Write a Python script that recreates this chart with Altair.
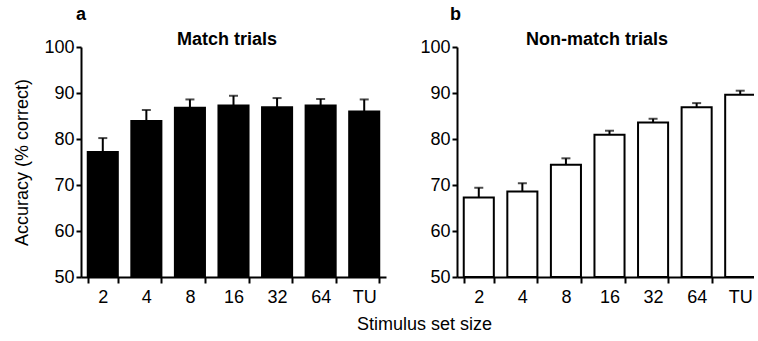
import altair as alt
import pandas as pd

sizes = ["2", "4", "8", "16", "32", "64", "TU"]
match_mean = [77.2, 83.9, 86.8, 87.3, 86.9, 87.3, 86.0]
match_sem = [3.0, 2.4, 1.8, 2.1, 2.0, 1.4, 2.6]
nonmatch_mean = [67.3, 68.6, 74.4, 80.9, 83.6, 86.9, 89.6]
nonmatch_sem = [2.1, 1.8, 1.4, 0.9, 0.8, 0.9, 0.9]

FONT = "Liberation Sans"
W, H = 305, 230


def panel(means, sems, fill, title, letter, title_x, letter_x, left):
    df = pd.DataFrame({"size": sizes, "mean": means, "sem": sems})
    df["top"] = df["mean"] + df["sem"]
    if left:
        xaxis = alt.Axis(
            labelAngle=0, tickBand="extent", tickSize=6, labelPadding=5,
            title="Stimulus set size", titleX=343, titleY=52,
            titleBaseline="alphabetic", titleFontWeight="normal", titleFontSize=18,
        )
    else:
        xaxis = alt.Axis(labelAngle=0, tickBand="extent", tickSize=6,
                         labelPadding=5, title=None)
    xscale = alt.Scale(type="band", paddingInner=0.31, paddingOuter=0.155, align=0.5)
    x = alt.X("size:N", sort=sizes, axis=xaxis, scale=xscale)
    yscale = alt.Scale(domain=[50, 100], zero=False, nice=False)
    yaxis = alt.Axis(
        values=[50, 60, 70, 80, 90, 100], tickSize=5, labelPadding=2,
        title="Accuracy (% correct)" if left else None,
        titlePadding=12, titleFontWeight="normal", titleFontSize=18,
    )
    base = alt.Chart(df)
    bars = base.mark_bar(fill=fill, stroke="black", strokeWidth=2).encode(
        x=x,
        y=alt.Y("mean:Q", scale=yscale, axis=yaxis),
        y2=alt.datum(50),
    )
    err = base.mark_rule(color="black", strokeWidth=2).encode(
        x=x, y=alt.Y("mean:Q", scale=yscale, axis=yaxis), y2="top:Q"
    )
    cap = base.mark_tick(color="black", size=9, thickness=2).encode(
        x=x, y=alt.Y("top:Q", scale=yscale, axis=yaxis)
    )
    lab = pd.DataFrame({"t": [title], "l": [letter]})
    ttl = alt.Chart(lab).mark_text(
        font=FONT, fontSize=18, fontWeight="bold", align="center", baseline="alphabetic"
    ).encode(text="t:N", x=alt.value(title_x), y=alt.value(-2))
    let = alt.Chart(lab).mark_text(
        font=FONT, fontSize=18, fontWeight="bold", align="left", baseline="alphabetic"
    ).encode(text="l:N", x=alt.value(letter_x), y=alt.value(-27))
    return alt.layer(bars, err, cap, ttl, let).properties(width=W, height=H)


left = panel(match_mean, match_sem, "black", "Match trials", "a", 146, -5, True)
right = panel(nonmatch_mean, nonmatch_sem, "white", "Non-match trials", "b", 140, -7, False)

chart = alt.hconcat(left, right, spacing=71, bounds="flush").properties(
    padding={"left": 13, "top": 6, "right": -8, "bottom": 0}
).configure_view(stroke=None).configure_axis(
    grid=False, domainColor="black", domainWidth=2, tickColor="black", tickWidth=2,
    labelColor="black", labelFont=FONT, labelFontSize=18, titleFont=FONT,
    titleColor="black",
)

chart.save("out.html", embed_options={"renderer": "svg", "actions": False})
